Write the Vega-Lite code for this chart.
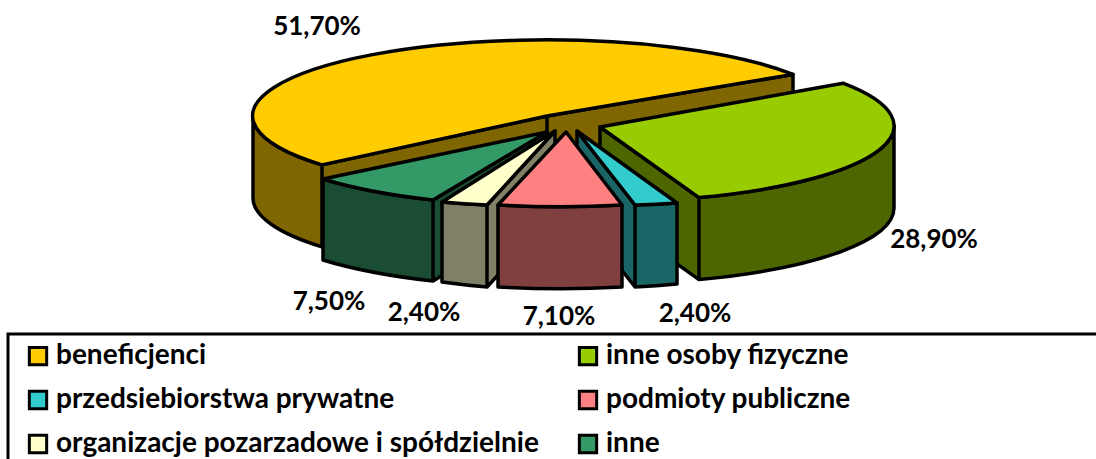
{
"$schema":"https://vega.github.io/schema/vega-lite/v6.json",
"width":1096,"height":459,"padding":0,"autosize":{"type":"none"},"background":"white",
"config":{"view":{"stroke":null},"legend":{"strokeColor":"black","strokeWidth":3}},
"data":{"values":[
{"segment":"beneficjenci","share":51.7,"label":"51,70%","nr":1},
{"segment":"inne osoby fizyczne","share":28.9,"label":"28,90%","nr":2},
{"segment":"przedsiebiorstwa prywatne","share":2.4,"label":"2,40%","nr":3},
{"segment":"inne","share":7.5,"label":"7,50%","nr":4},
{"segment":"organizacje pozarzadowe i spółdzielnie","share":2.4,"label":"2,40%","nr":5},
{"segment":"podmioty publiczne","share":7.1,"label":"7,10%","nr":6}
]},
"resolve":{"scale":{"shape":"independent"}},
"layer":[
{"mark":{"type":"point","filled":true,"opacity":1,"size":4,"stroke":"black","strokeWidth":3.5,"strokeJoin":"round"},
 "encoding":{
  "fill":{"field":"nr","type":"nominal","legend":null,"scale":{"domain":[1,2,3,4,5,6],"range":["#806600","#4D6600","#1A6666","#1A4D33","#808066","#804040"]}},
  "shape":{"field":"nr","type":"nominal","legend":null,"scale":{"domain":[1,2,3,4,5,6],"range":[
   "M-295,-113.5 L-295,-31.5 A294 76 0 0 0 -226,17.4 L-226,-64.6 A294 76 0 0 1 -295,-113.5 Z M-226,-64.6 L-1,-113.5 L245,-155.1 L245,-73.1 L-1,-31.5 L-226,17.4 Z M-1,-113.5 L-1,-31.5",
   "M346,-103.5 L346,-21.5 A294 76 0 0 1 151,50.1 L151,-31.9 A294 76 0 0 0 346,-103.5 Z M52,-102.5 L151,-31.9 L151,50.1 L52,-20.5 Z",
   "M29,-98.5 L87,-24.5 L87,57.5 L29,-16.5 Z M87,-24.5 A294 76 0 0 0 129,-26.5 L129,54.5 A294 76 0 0 1 87,57.5 Z",
   "M-1,-97.5 L-115,-29.5 L-115,51.5 L-1,-16.5 Z M-115,-29.5 A294 76 0 0 1 -225,-50.5 L-225,30.5 A294 76 0 0 0 -115,51.5 Z",
   "M7,-98.5 L-61,-24.5 L-61,57.5 L7,-16.5 Z M-61,-24.5 A294 76 0 0 1 -106,-27.5 L-106,52.5 A294 76 0 0 0 -61,57.5 Z",
   "M-50,-24.5 A294 76 0 0 0 74,-24.5 L74,57.5 A294 76 0 0 1 -50,57.5 Z"
  ]}}
 }},
{"mark":{"type":"point","filled":true,"opacity":1,"size":4,"stroke":"black","strokeWidth":3.5,"strokeJoin":"round"},
 "encoding":{
  "color":{"field":"segment","type":"nominal","scale":{"domain":["beneficjenci","inne osoby fizyczne","przedsiebiorstwa prywatne","podmioty publiczne","organizacje pozarzadowe i spółdzielnie","inne"],"range":["#FFCC00","#99CC00","#33CCCC","#FF8080","#FFFFCC","#339966"]},
   "legend":{"title":" ","titleOrient":"right","titlePadding":300,"orient":"none","legendX":8,"legendY":334,"columns":2,"gridAlign":"all","direction":"horizontal","symbolType":"square","symbolSize":300,"symbolStrokeColor":"black","symbolStrokeWidth":3,"symbolOpacity":1,"symbolOffset":8,"labelFont":"Lato","labelFontWeight":"bold","labelFontSize":28,"labelColor":"black","labelLimit":600,"labelOffset":4,"rowPadding":14,"columnPadding":27,"padding":8,"strokeColor":"black"}},
  "shape":{"field":"nr","type":"nominal","legend":null,"scale":{"domain":[1,2,3,4,5,6],"range":[
   "M245,-155.1 A294 76 0 1 0 -226,-64.6 L-1,-113.5 Z",
   "M295,-146.3 A294 76 0 0 1 151,-31.9 L52,-102.5 Z",
   "M29,-98.5 L87,-24.5 A294 76 0 0 0 129,-26.5 Z",
   "M-1,-97.5 L-115,-29.5 A294 76 0 0 1 -225,-50.5 Z",
   "M7,-98.5 L-61,-24.5 A294 76 0 0 1 -106,-27.5 Z",
   "M18,-97.5 L74,-24.5 A294 76 0 0 1 -50,-24.5 Z"
  ]}}
 }},
{"mark":{"type":"text","font":"Lato","fontWeight":"bold","fontSize":26,"color":"black","align":"center","baseline":"middle"},
 "encoding":{
  "x":{"field":"nr","type":"quantitative","axis":null,"scale":{"zero":false,"nice":false,"domain":[1,2,3,4,5,6],"range":[317,934,695,329,424,559]}},
  "y":{"field":"nr","type":"quantitative","axis":null,"scale":{"zero":false,"nice":false,"domain":[1,2,3,4,5,6],"range":[27,240,314,302,313,317]}},
  "text":{"field":"label","type":"nominal"}
 }}
]
}
